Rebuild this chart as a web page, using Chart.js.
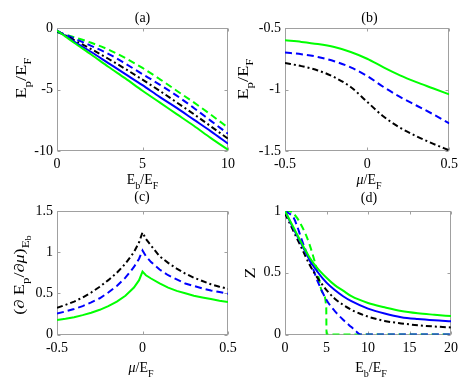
<!DOCTYPE html>
<html><head><meta charset="utf-8">
<script src="https://cdn.jsdelivr.net/npm/chart.js@4/dist/chart.umd.min.js"></script>
<style>
html,body{margin:0;padding:0;background:#fff;}
#wrap{position:relative;width:463px;height:378px;overflow:hidden;}
canvas{position:absolute;left:0;top:0;}
</style></head><body><div id="wrap">
<canvas id="ca" width="463" height="378"></canvas>
<canvas id="cb" width="463" height="378"></canvas>
<canvas id="cc" width="463" height="378"></canvas>
<canvas id="cd" width="463" height="378"></canvas>
</div>
<script>
// ---------- DATA ----------
// Panel (a): E_p/E_F vs E_b/E_F
const aX = [0, 0.5, 1, 2, 3, 4, 5, 6, 7, 8, 9, 10];
const aGreenSolid = [-0.2, -0.7, -1.2, -2.15, -3.15, -4.1, -5.1, -6.05, -7.0, -7.95, -8.95, -9.9];
const aBlueSolid  = [-0.2, -0.65, -1.1, -1.95, -2.85, -3.75, -4.65, -5.6, -6.5, -7.45, -8.4, -9.4];
const aBlackDD    = [-0.25, -0.6, -0.98, -1.72, -2.5, -3.33, -4.2, -5.1, -6.05, -7.0, -8.0, -9.0];
const aBlueDash   = [-0.3, -0.55, -0.85, -1.45, -2.1, -2.9, -3.75, -4.6, -5.5, -6.5, -7.55, -8.6];
const aGreenDash  = [-0.35, -0.55, -0.75, -1.2, -1.75, -2.45, -3.25, -4.15, -5.1, -6.05, -7.05, -8.1];
const aXTicks = [0, 5, 10];
const aYTicks = [0, -5, -10];

// Panel (b): E_p/E_F vs mu/E_F
const bX = [-0.5, -0.4, -0.3, -0.2, -0.1, 0, 0.1, 0.2, 0.3, 0.4, 0.5];
const bGreenSolid = [-0.6, -0.613, -0.63, -0.655, -0.695, -0.75, -0.82, -0.885, -0.94, -0.99, -1.04];
const bBlueDash   = [-0.7, -0.713, -0.735, -0.77, -0.82, -0.89, -0.98, -1.06, -1.13, -1.2, -1.275];
const bBlackDD    = [-0.785, -0.81, -0.845, -0.9, -0.98, -1.1, -1.22, -1.31, -1.38, -1.44, -1.495];
const bXTicks = [-0.5, 0, 0.5];
const bYTicks = [-0.5, -1, -1.5];

// Panel (c): (dE_p/dmu)_{E_b} vs mu/E_F
const cX = [-0.5, -0.45, -0.4, -0.35, -0.3, -0.25, -0.2, -0.15, -0.1, -0.05, -0.02, 0, 0.02, 0.05, 0.1, 0.15, 0.2, 0.25, 0.3, 0.35, 0.4, 0.45, 0.5];
const cBlackDD    = [0.325, 0.36, 0.4, 0.45, 0.51, 0.58, 0.66, 0.75, 0.86, 1.0, 1.12, 1.24, 1.16, 1.08, 0.95, 0.87, 0.8, 0.74, 0.69, 0.65, 0.61, 0.58, 0.555];
const cBlueDash   = [0.255, 0.28, 0.31, 0.345, 0.39, 0.44, 0.51, 0.59, 0.69, 0.82, 0.92, 1.02, 0.95, 0.88, 0.79, 0.72, 0.67, 0.62, 0.59, 0.56, 0.535, 0.515, 0.495];
const cGreenSolid = [0.175, 0.19, 0.21, 0.235, 0.265, 0.3, 0.345, 0.4, 0.47, 0.57, 0.66, 0.765, 0.72, 0.68, 0.62, 0.57, 0.53, 0.5, 0.47, 0.45, 0.43, 0.41, 0.395];
const cXTicks = [-0.5, 0, 0.5];
const cYTicks = [0, 0.5, 1, 1.5];

// Panel (d): Z vs E_b/E_F
const dXSolid = [0, 1, 2, 3, 4, 5, 6, 7, 8, 10, 12, 14, 16, 18, 20];
const dGreenSolid = [1.0, 0.87, 0.74, 0.62, 0.53, 0.46, 0.4, 0.355, 0.31, 0.255, 0.22, 0.19, 0.172, 0.16, 0.149];
const dBlueSolid  = [1.0, 0.86, 0.73, 0.6, 0.5, 0.42, 0.36, 0.31, 0.27, 0.21, 0.17, 0.14, 0.125, 0.115, 0.108];
const dBlackDD    = [0.98, 0.84, 0.7, 0.56, 0.45, 0.36, 0.29, 0.24, 0.2, 0.145, 0.11, 0.09, 0.075, 0.065, 0.057];
const dXBlueDash  = [0, 0.5, 1, 1.5, 2, 2.5, 3, 3.5, 4, 5, 6, 7, 8, 8.5, 9.1, 20];
const dBlueDash   = [1.0, 0.98, 0.95, 0.87, 0.77, 0.68, 0.6, 0.51, 0.42, 0.28, 0.19, 0.12, 0.06, 0.03, 0, 0];
const dXGreenDash = [0, 0.5, 1, 1.5, 2, 2.5, 3, 3.5, 4, 4.5, 4.97, 5.0, 20];
const dGreenDash  = [1.0, 1.0, 0.98, 0.94, 0.88, 0.81, 0.72, 0.61, 0.48, 0.34, 0.22, 0, 0];
const dXTicks = [0, 5, 10, 15, 20];
const dYTicks = [0, 0.5, 1];

// ---------- STYLE ----------
const GREEN = '#00ff00', BLUE = '#0000ff', BLACK = '#000000';
const DASH = [7, 4], DASHDOT = [6, 3, 2, 3];
const FONT = '"Liberation Serif","Times New Roman",serif';

function ds(xs, ys, color, dash, mode) {
  return {
    data: xs.map((x, i) => ({x: x, y: ys[i]})),
    borderColor: color, borderWidth: 2, borderDash: dash || [],
    pointRadius: 0, fill: false,
    tension: mode === 'lin' ? 0 : 0.4,
    cubicInterpolationMode: mode === 'lin' ? 'default' : 'monotone'
  };
}

function drawRich(ctx, segs, x, y, rot, sx) {
  const parts = [];
  let w = 0;
  segs.forEach(s => {
    const lvl = s.s || 0;
    const size = lvl === 0 ? 14 : (lvl === 1 ? 10 : 8);
    const font = (s.i ? 'italic ' : '') + size + 'px ' + FONT;
    ctx.font = font;
    const mw = ctx.measureText(s.t).width;
    parts.push({t: s.t, font: font, x: w, dy: lvl === 0 ? 0 : (lvl === 1 ? 4.5 : 7)});
    w += mw;
  });
  ctx.save();
  ctx.translate(x, y);
  if (rot) ctx.rotate(rot);
  if (sx) ctx.scale(sx, 1);
  ctx.fillStyle = '#000';
  ctx.textAlign = 'left';
  ctx.textBaseline = 'alphabetic';
  parts.forEach(p => { ctx.font = p.font; ctx.fillText(p.t, p.x - w / 2, p.dy); });
  ctx.restore();
}

const decoPlugin = {
  id: 'deco',
  beforeDatasetsDraw(chart, args, o) {
    const ctx = chart.ctx, a = chart.chartArea, xs = chart.scales.x, ys = chart.scales.y;
    ctx.save();
    ctx.strokeStyle = '#a0a0a0';
    ctx.lineWidth = 1;
    const L = Math.round(a.left) + 0.5, R = Math.round(a.right) - 0.5;
    const T = Math.round(a.top) + 0.5, B = Math.round(a.bottom) - 0.5;
    ctx.strokeRect(L, T, R - L, B - T);
    ctx.beginPath();
    xs.ticks.forEach(t => {
      const p = Math.round(xs.getPixelForValue(t.value)) + 0.5;
      ctx.moveTo(p, B); ctx.lineTo(p, B - 3);
      ctx.moveTo(p, T); ctx.lineTo(p, T + 3);
    });
    ys.ticks.forEach(t => {
      const p = Math.round(ys.getPixelForValue(t.value)) + 0.5;
      ctx.moveTo(L, p); ctx.lineTo(L + 3, p);
      ctx.moveTo(R, p); ctx.lineTo(R - 3, p);
    });
    ctx.stroke();
    ctx.restore();
  },
  afterDraw(chart, args, o) {
    const ctx = chart.ctx;
    drawRich(ctx, [{t: o.title}], o.tx, o.ty);
    drawRich(ctx, o.xl, o.xx, o.xy);
    drawRich(ctx, o.yl, o.yx, o.yy, -Math.PI / 2, 1.3);
  }
};

const YW = 40, XH = 30;
function makeChart(id, box, xr, yr, xt, yt, datasets, deco) {
  const tickFont = {family: FONT, size: 14};
  return new Chart(document.getElementById(id), {
    type: 'line',
    data: {datasets: datasets},
    options: {
      responsive: false, animation: false, events: [],
      layout: {padding: {left: box.l - YW, right: 463 - box.r, top: box.t, bottom: 378 - box.b - XH}},
      plugins: {legend: {display: false}, tooltip: {enabled: false}, deco: deco},
      scales: {
        x: {
          type: 'linear', min: xr[0], max: xr[1],
          afterFit(s) { s.height = XH; },
          afterBuildTicks(s) { s.ticks = xt.map(v => ({value: v})); },
          grid: {display: false, drawTicks: false}, border: {display: false},
          ticks: {font: tickFont, color: '#000', padding: 5, maxRotation: 0, autoSkip: false, callback: v => String(v)}
        },
        y: {
          type: 'linear', min: yr[0], max: yr[1],
          afterFit(s) { s.width = YW; },
          afterBuildTicks(s) { s.ticks = yt.map(v => ({value: v})); },
          grid: {display: false, drawTicks: false}, border: {display: false},
          ticks: {font: tickFont, color: '#000', padding: 4, autoSkip: false, callback: v => String(v)}
        }
      }
    },
    plugins: [decoPlugin]
  });
}

const EbEF = [{t: 'E'}, {t: 'b', s: 1}, {t: '/E'}, {t: 'F', s: 1}];
const EpEF = [{t: 'E'}, {t: 'p', s: 1}, {t: '/E'}, {t: 'F', s: 1}];
const muEF = [{t: '\u03bc', i: true}, {t: '/E'}, {t: 'F', s: 1}];
const dEdmu = [{t: '(\u2202 E'}, {t: 'p', s: 1}, {t: '/\u2202'}, {t: '\u03bc', i: true}, {t: ')'}, {t: 'E', s: 1}, {t: 'b', s: 2}];

makeChart('ca', {l: 57, r: 228, t: 28, b: 151}, [0, 10], [-10, 0], aXTicks, aYTicks, [
  ds(aX, aGreenSolid, GREEN), ds(aX, aBlueSolid, BLUE), ds(aX, aBlackDD, BLACK, DASHDOT),
  ds(aX, aBlueDash, BLUE, DASH), ds(aX, aGreenDash, GREEN, DASH)
], {title: '(a)', tx: 142.5, ty: 22, xl: EbEF, xx: 142.5, xy: 184, yl: EpEF, yx: 26, yy: 78});

makeChart('cb', {l: 285, r: 454, t: 28, b: 151}, [-0.5, 0.5], [-1.5, -0.5], bXTicks, bYTicks, [
  ds(bX, bGreenSolid, GREEN), ds(bX, bBlueDash, BLUE, DASH), ds(bX, bBlackDD, BLACK, DASHDOT)
], {title: '(b)', tx: 369.5, ty: 22, xl: muEF, xx: 369, xy: 184, yl: EpEF, yx: 248, yy: 79});

makeChart('cc', {l: 57, r: 228, t: 211, b: 334.5}, [-0.5, 0.5], [0, 1.5], cXTicks, cYTicks, [
  ds(cX, cGreenSolid, GREEN, null, 'lin'), ds(cX, cBlueDash, BLUE, DASH, 'lin'), ds(cX, cBlackDD, BLACK, DASHDOT, 'lin')
], {title: '(c)', tx: 142, ty: 201, xl: muEF, xx: 141, xy: 372, yl: dEdmu, yx: 24, yy: 275});

makeChart('cd', {l: 285, r: 454, t: 211, b: 334.5}, [0, 20], [0, 1], dXTicks, dYTicks, [
  ds(dXSolid, dGreenSolid, GREEN), ds(dXSolid, dBlueSolid, BLUE), ds(dXSolid, dBlackDD, BLACK, DASHDOT),
  ds(dXBlueDash, dBlueDash, BLUE, DASH), ds(dXGreenDash, dGreenDash, GREEN, DASH)
], {title: '(d)', tx: 369, ty: 202, xl: EbEF, xx: 371, xy: 372, yl: [{t: 'Z'}], yx: 255, yy: 273});
</script>
</body></html>
